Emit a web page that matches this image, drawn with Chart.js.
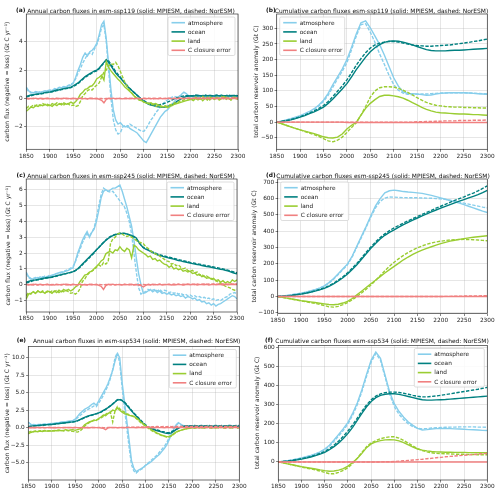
<!DOCTYPE html>
<html><head><meta charset="utf-8">
<script src="https://cdn.jsdelivr.net/npm/chart.js@4.4.1/dist/chart.umd.min.js"></script>
<style>
html,body{margin:0;padding:0;background:#fff;}
body{width:500px;height:493px;overflow:hidden;position:relative;font-family:"DejaVu Sans",sans-serif;}
canvas{position:absolute;}
.lab{position:absolute;font-size:5.9px;line-height:7px;font-weight:bold;white-space:nowrap;color:#111;}
.ttl{position:absolute;font-size:5.95px;line-height:7px;white-space:nowrap;color:#111;transform:translateX(-50%);}
</style></head><body>
<canvas id="ca" width="248" height="162" style="left:0;top:4px"></canvas>
<canvas id="cb" width="250" height="162" style="left:250px;top:4px"></canvas>
<canvas id="cc" width="248" height="160" style="left:0;top:168px"></canvas>
<canvas id="cd" width="250" height="160" style="left:250px;top:168px"></canvas>
<canvas id="ce" width="248" height="157" style="left:0;top:336px"></canvas>
<canvas id="cf" width="250" height="157" style="left:250px;top:336px"></canvas>
<script>
// ---------- categories / ticks ----------
const annualYears = Array.from({length:91},(_,i)=>1850+5*i);
const cumYears = Array.from({length:46},(_,i)=>1850+10*i);
const xTicks = [1850,1900,1950,2000,2050,2100,2150,2200,2250,2300];
const legendNames = ['atmosphere','ocean','land','C closure error'];
const aTicks = [-2,0,2,4];
const bTicks = [-50,0,50,100,150,200,250,300];
const cTicks = [-1,0,1,2,3,4,5,6];
const dTicks = [-100,0,100,200,300,400,500,600,700];
const eTicks = [-5,-2.5,0,2.5,5,7.5,10];
const fTicks = [0,100,200,300,400,500,600];

// ---------- (a) annual esm-ssp119 ----------
const aAtmM = [0.8,0.55,0.45,0.4,0.5,0.45,0.4,0.5,0.45,0.55,
0.6,0.55,0.7,0.65,0.8,0.75,0.85,0.8,0.9,0.95,
1.1,1.5,2.0,2.4,2.9,3.2,3.0,3.3,3.4,3.6,
3.9,4.5,5.2,5.45,4.2,2.4,0.6,-0.8,-1.5,-1.8,
-1.7,-1.9,-2.0,-1.9,-2.1,-2.2,-2.3,-2.4,-2.6,-2.8,
-3.0,-3.1,-2.8,-2.5,-2.2,-1.9,-1.6,-1.3,-1.1,-0.9,
-0.8,-0.6,-0.4,-0.2,0.0,0.1,0.3,0.45,0.35,0.2,
0.2,0.1,0.15,0.05,0.2,0.1,0.15,0.2,0.05,0.1,
0.2,0.1,0.15,0.25,0.1,0.2,0.1,0.15,0.05,0.1,
0.15];
const aAtmN = [0.7,0.5,0.4,0.45,0.4,0.5,0.45,0.5,0.55,0.5,
0.55,0.6,0.65,0.7,0.75,0.8,0.8,0.85,0.95,1.0,
1.1,1.4,1.8,2.1,2.5,2.8,3.1,3.2,3.1,3.5,
3.8,4.3,5.0,5.2,4.0,2.0,0.0,-1.5,-2.2,-2.5,
-2.4,-2.0,-1.9,-2.0,-1.8,-1.9,-2.0,-2.1,-2.2,-2.3,
-2.3,-2.1,-1.8,-1.5,-1.3,-1.0,-0.8,-0.6,-0.4,-0.2,
-0.1,0.0,0.1,0.15,0.1,0.2,0.15,0.1,0.2,0.15,
0.1,0.2,0.1,0.15,0.1,0.2,0.05,0.15,0.1,0.2,
0.1,0.15,0.2,0.1,0.15,0.05,0.2,0.1,0.15,0.1,
0.1];
const aOcnM = [0.15,0.2,0.25,0.28,0.3,0.33,0.35,0.38,0.42,0.45,
0.45,0.5,0.55,0.6,0.62,0.66,0.7,0.73,0.76,0.8,
0.9,1.0,1.1,1.25,1.4,1.55,1.65,1.75,1.85,1.95,
2.0,2.15,2.35,2.55,2.75,2.55,2.3,2.05,1.8,1.6,
1.45,1.25,1.05,0.85,0.7,0.55,0.4,0.25,0.1,-0.05,
-0.2,-0.3,-0.4,-0.45,-0.5,-0.55,-0.58,-0.6,-0.62,-0.6,
-0.55,-0.5,-0.42,-0.35,-0.2,-0.1,0.0,0.08,0.14,0.18,
0.2,0.18,0.2,0.22,0.2,0.18,0.2,0.2,0.22,0.2,
0.18,0.2,0.2,0.22,0.2,0.2,0.18,0.2,0.22,0.2,
0.2];
const aOcnN = [0.1,0.15,0.2,0.25,0.28,0.3,0.32,0.35,0.4,0.42,
0.45,0.48,0.52,0.56,0.6,0.63,0.67,0.7,0.73,0.78,
0.85,0.95,1.05,1.2,1.35,1.5,1.6,1.7,1.8,1.9,
1.95,2.1,2.3,2.5,2.7,2.65,2.4,2.15,1.9,1.7,
1.5,1.3,1.1,0.9,0.72,0.55,0.4,0.25,0.1,-0.05,
-0.15,-0.25,-0.32,-0.38,-0.42,-0.45,-0.45,-0.42,-0.38,-0.32,
-0.25,-0.18,-0.1,-0.02,0.05,0.1,0.15,0.18,0.2,0.2,
0.2,0.22,0.25,0.22,0.2,0.22,0.25,0.2,0.22,0.2,
0.22,0.25,0.2,0.22,0.2,0.22,0.25,0.2,0.22,0.2,
0.22];
const aLndM = [-0.9,-0.75,-0.6,-0.65,-0.5,-0.55,-0.45,-0.5,-0.4,-0.5,
-0.45,-0.55,-0.4,-0.5,-0.35,-0.45,-0.3,-0.4,-0.35,-0.25,
-0.35,-0.2,0.0,0.3,0.45,0.65,0.7,0.85,0.9,1.1,
1.4,1.5,1.65,1.3,2.6,2.2,1.95,1.75,1.55,1.35,
1.2,1.0,0.8,0.65,0.5,0.35,0.15,0.05,-0.1,-0.15,
-0.25,-0.3,-0.35,-0.3,-0.4,-0.35,-0.45,-0.5,-0.6,-0.55,
-0.65,-0.55,-0.5,-0.4,-0.35,-0.3,-0.25,-0.2,-0.15,-0.1,
-0.05,-0.15,0.0,-0.1,0.05,-0.15,0.0,0.1,-0.1,0.05,
-0.05,0.1,-0.1,0.0,0.15,-0.05,0.05,-0.1,0.1,0.0,
-0.05];
const aLndN = [-0.7,-0.55,-0.6,-0.45,-0.5,-0.4,-0.5,-0.35,-0.45,-0.4,
-0.5,-0.35,-0.45,-0.3,-0.4,-0.35,-0.45,-0.3,-0.4,-0.5,
-0.45,-0.55,-0.5,-0.2,0.2,0.35,0.55,0.65,0.6,0.8,
0.95,1.1,1.5,1.85,2.0,2.3,2.45,2.4,2.55,2.3,
1.9,1.5,1.1,0.8,0.55,0.35,0.15,0.0,-0.1,-0.15,
-0.25,-0.3,-0.35,-0.45,-0.4,-0.55,-0.5,-0.6,-0.55,-0.5,
-0.55,-0.45,-0.4,-0.3,-0.35,-0.2,-0.15,-0.1,-0.05,0.0,
0.05,-0.1,0.1,0.0,-0.05,0.15,0.0,-0.1,0.1,0.05,
-0.05,0.1,0.0,0.15,-0.05,0.1,0.0,-0.1,0.05,0.1,
0.0];
const aErrM = [0.02,-0.03,0.01,-0.02,0.03,-0.01,0.02,-0.03,0.0,0.02,
-0.02,0.01,-0.03,0.02,0.0,-0.02,0.03,-0.01,0.01,-0.02,
0.02,-0.01,0.0,0.03,-0.02,0.01,-0.03,0.02,-0.01,0.0,
0.02,-0.06,-0.12,-0.3,-0.05,0.02,-0.01,0.03,-0.02,0.0,
0.01,-0.02,0.02,0.0,-0.01,0.02,-0.02,0.01,0.0,-0.02,
0.02,-0.01,0.01,-0.02,0.02,0.0,-0.01,0.02,-0.02,0.01,
0.0,0.02,-0.02,0.01,-0.01,0.02,0.0,-0.02,0.01,0.02,
-0.01,0.01,0.02,-0.02,0.0,0.01,-0.01,0.02,-0.02,0.0,
0.02,-0.01,0.01,0.0,-0.02,0.02,-0.01,0.01,0.0,0.02,
0.0];
const aErrN = [0.0,0.01,-0.01,0.02,0.0,-0.02,0.01,0.0,-0.01,0.01,
0.0,-0.01,0.02,0.0,-0.01,0.01,0.0,0.02,-0.01,0.0,
0.01,0.0,-0.02,0.01,0.0,0.01,-0.01,0.0,0.02,0.0,
-0.01,0.01,0.0,-0.02,0.01,0.0,0.01,-0.01,0.0,0.02,
0.0,-0.01,0.01,0.0,0.02,-0.01,0.0,0.01,0.0,-0.01,
0.01,0.0,0.02,0.0,-0.01,0.01,0.0,0.02,0.01,0.0,
0.02,0.01,0.0,0.02,0.01,0.03,0.0,0.02,0.01,0.03,
0.02,0.03,0.01,0.04,0.02,0.03,0.05,0.02,0.04,0.03,
0.05,0.03,0.04,0.06,0.04,0.05,0.03,0.06,0.05,0.04,
0.05];

// ---------- (b) cumulative esm-ssp119 ----------
const bAtmM = [0,3,7,11,16,21,27,34,43,55,
70,92,120,145,170,200,240,282,318,324,
302,275,248,215,178,142,115,97,92,91,
90,88,86,87,90,92,93,94,94,94,
94,93,92,91,90,89];
const bAtmN = [0,3,6,10,14,19,25,32,40,52,
66,86,112,138,163,190,232,275,312,315,
288,255,218,185,150,120,102,93,89,88,
89,90,90,91,92,93,93,94,94,94,
94,93,93,92,91,90];
const bOcnM = [0,2,4,7,11,16,21,27,33,40,
48,60,74,90,106,123,145,168,188,208,
225,238,248,255,259,260,259,256,252,247,
242,237,232,229,228,228,228,229,230,230,
231,232,233,234,235,236];
const bOcnN = [0,2,5,8,12,17,23,29,36,44,
53,66,82,99,116,135,158,182,203,222,
237,247,253,256,258,258,256,253,250,247,
245,244,243,243,244,245,246,247,249,251,
253,255,258,260,263,266];
const bLndM = [0,-5,-10,-15,-20,-25,-29,-33,-37,-42,
-47,-50,-51,-48,-38,-22,-10,-1,22,44,
60,72,82,86,86,84,81,77,70,62,
55,47,41,36,32,30,29,28,27,26,
26,25,24,24,23,22];
const bLndN = [0,-5,-10,-15,-20,-25,-30,-35,-40,-46,
-53,-60,-63,-58,-48,-33,-17,-2,22,50,
80,100,110,113,113,112,108,102,95,87,
78,70,63,58,54,52,50,49,48,48,
47,47,46,46,45,45];
const bErrM = [0,0,0,0,0,0,0,0,0,0,
0,0,0,0,0,-1,-1,-1,-1,-1,
-1,-1,-1,-1,-1,-1,-1,-1,-1,-1,
-1,-1,-1,-1,-1,-1,-1,-1,-1,-1,
-1,-1,-1,-1,-1,-1];
const bErrN = [0,0,0,0,0,0,0,0,0,0,
0,0,0,0,0,0,0,0,0,0,
0,0,0,0,0,0,0,0,0,0,
1,1,2,2,3,3,4,4,4,5,
5,5,6,6,6,7];

// ---------- (c) annual esm-ssp245 ----------
const cAtmM = [0.8,0.5,0.4,0.35,0.4,0.45,0.4,0.5,0.45,0.5,
0.55,0.6,0.65,0.7,0.75,0.8,0.8,0.85,0.9,1.0,
1.05,1.5,2.0,2.4,2.8,3.1,3.35,3.0,3.3,3.5,
4.0,4.7,5.5,5.9,6.0,5.9,6.0,6.1,6.1,6.2,
6.3,5.9,5.4,4.9,4.3,3.7,2.8,1.7,0.7,0.0,
-0.55,-0.5,-0.4,-0.3,-0.45,-0.35,-0.5,-0.4,-0.55,-0.5,
-0.6,-0.55,-0.65,-0.6,-0.7,-0.65,-0.75,-0.7,-0.85,-0.75,
-0.8,-0.9,-0.85,-1.0,-0.95,-1.1,-1.05,-1.2,-1.15,-1.3,
-1.2,-1.35,-1.25,-1.2,-1.1,-1.0,-0.9,-0.8,-0.7,-0.75,
-0.9];
const cAtmN = [0.7,0.45,0.35,0.4,0.45,0.4,0.5,0.45,0.55,0.5,
0.6,0.55,0.65,0.7,0.7,0.75,0.85,0.9,0.95,1.05,
1.15,1.45,1.85,2.25,2.65,2.95,3.2,3.1,3.3,3.6,
4.2,5.0,5.7,6.1,6.0,5.9,5.85,5.9,5.7,5.5,
5.3,5.1,4.9,4.5,4.0,3.2,2.0,0.8,-0.2,-0.6,
-0.5,-0.45,-0.3,-0.4,-0.35,-0.3,-0.4,-0.3,-0.45,-0.35,
-0.4,-0.5,-0.45,-0.55,-0.5,-0.6,-0.55,-0.65,-0.6,-0.7,
-0.65,-0.75,-0.7,-0.8,-0.75,-0.85,-0.8,-0.9,-0.85,-0.95,
-0.9,-1.0,-0.95,-1.0,-0.9,-0.8,-0.75,-0.6,-0.55,-0.5,
-0.6];
const cOcnM = [0.15,0.2,0.25,0.28,0.3,0.33,0.36,0.4,0.42,0.45,
0.45,0.48,0.52,0.56,0.6,0.63,0.67,0.7,0.74,0.78,
0.82,0.9,1.0,1.15,1.3,1.45,1.6,1.75,1.9,2.05,
2.2,2.35,2.5,2.65,2.8,2.92,3.02,3.1,3.15,3.2,
3.22,3.24,3.24,3.2,3.16,3.1,3.05,2.95,2.7,2.5,
2.33,2.25,2.18,2.1,2.03,1.96,1.89,1.84,1.8,1.76,
1.72,1.68,1.65,1.61,1.57,1.53,1.5,1.46,1.43,1.4,
1.36,1.33,1.3,1.27,1.25,1.21,1.18,1.15,1.13,1.1,
1.07,1.03,1.0,0.97,0.95,0.91,0.87,0.82,0.77,0.72,
0.68];
const cOcnN = [0.1,0.15,0.2,0.25,0.28,0.3,0.33,0.36,0.4,0.42,
0.44,0.47,0.5,0.54,0.58,0.62,0.66,0.7,0.73,0.77,
0.8,0.88,0.98,1.1,1.25,1.4,1.55,1.7,1.85,2.0,
2.2,2.35,2.52,2.68,2.82,2.95,3.05,3.13,3.18,3.22,
3.25,3.26,3.24,3.2,3.15,3.08,3.0,2.88,2.68,2.5,
2.35,2.28,2.21,2.14,2.07,2.0,1.94,1.89,1.85,1.81,
1.77,1.73,1.7,1.66,1.62,1.58,1.55,1.51,1.48,1.45,
1.41,1.38,1.35,1.32,1.3,1.26,1.23,1.2,1.18,1.15,
1.12,1.08,1.05,1.02,0.99,0.96,0.92,0.88,0.83,0.79,
0.75];
const cLndM = [-0.9,-0.6,-0.55,-0.45,-0.55,-0.4,-0.5,-0.45,-0.55,-0.4,
-0.45,-0.55,-0.4,-0.5,-0.35,-0.45,-0.3,-0.4,-0.3,-0.4,
-0.3,-0.15,-0.05,0.2,0.4,0.6,0.65,0.8,0.85,1.0,
1.15,1.3,1.5,1.6,1.95,2.05,2.1,2.0,2.2,2.15,
2.4,2.2,2.1,2.3,2.2,1.7,2.5,2.4,2.2,2.1,
2.0,1.9,1.75,1.8,1.6,1.65,1.5,1.55,1.4,1.3,
1.25,1.1,1.2,1.0,1.05,0.95,1.0,0.85,0.9,0.8,
0.85,0.7,0.75,0.6,0.65,0.5,0.55,0.4,0.45,0.35,
0.4,0.25,0.3,0.15,0.25,0.1,0.2,0.1,0.3,0.2,
0.3];
const cLndN = [-0.7,-0.5,-0.6,-0.45,-0.55,-0.4,-0.5,-0.4,-0.5,-0.45,
-0.5,-0.4,-0.45,-0.35,-0.5,-0.4,-0.45,-0.35,-0.45,-0.55,
-0.5,-0.6,-0.5,-0.25,0.2,0.35,0.6,0.75,0.85,0.95,
1.1,1.25,1.15,1.4,1.3,1.45,2.6,2.9,3.0,3.2,
3.25,3.2,3.1,3.05,3.1,3.0,2.9,2.8,2.7,2.65,
2.6,2.4,2.3,2.15,2.05,1.95,1.9,1.8,1.7,1.6,
1.5,1.45,1.3,1.35,1.2,1.25,1.1,1.0,1.05,0.9,
0.85,0.9,0.75,0.8,0.6,0.65,0.5,0.55,0.45,0.4,
0.3,0.25,0.15,0.05,0.0,-0.1,-0.15,-0.2,-0.3,-0.35,
-0.3];
const cErrM = [0.02,-0.03,0.01,-0.02,0.03,-0.01,0.02,-0.03,0.0,0.02,
-0.02,0.01,-0.03,0.02,0.0,-0.02,0.03,-0.01,0.01,-0.02,
0.02,-0.01,0.0,0.03,-0.02,0.01,-0.03,0.02,-0.01,0.0,
0.02,-0.05,-0.1,-0.3,-0.06,0.02,-0.01,0.03,-0.02,0.0,
0.01,-0.02,0.02,0.0,-0.01,0.02,-0.02,0.01,-0.03,-0.05,
-0.15,-0.05,0.01,-0.02,0.02,0.0,-0.01,0.02,-0.02,0.01,
0.0,0.02,-0.02,0.01,-0.01,0.02,0.0,-0.02,0.01,0.02,
-0.01,0.01,0.02,-0.02,0.0,0.01,-0.01,0.02,-0.02,0.0,
0.02,-0.01,0.01,0.0,-0.02,0.02,-0.01,0.01,0.0,0.02,
0.0];
const cErrN = [0.0,0.01,-0.01,0.02,0.0,-0.02,0.01,0.0,-0.01,0.01,
0.0,-0.01,0.02,0.0,-0.01,0.01,0.0,0.02,-0.01,0.0,
0.01,0.0,-0.02,0.01,0.0,0.01,-0.01,0.0,0.02,0.0,
-0.01,0.01,0.0,-0.02,0.01,0.0,0.01,-0.01,0.0,0.02,
0.0,-0.01,0.01,0.0,0.02,-0.01,0.0,0.01,0.0,-0.01,
0.01,0.0,0.02,0.0,-0.01,0.01,0.0,0.02,0.01,0.0,
0.02,0.01,0.0,0.02,0.01,0.03,0.0,0.02,0.01,0.03,
0.02,0.03,0.01,0.04,0.02,0.03,0.05,0.02,0.04,0.03,
0.05,0.03,0.04,0.06,0.04,0.05,0.03,0.06,0.05,0.04,
0.05];

// ---------- (d) cumulative esm-ssp245 ----------
const dAtmM = [0,3,7,11,16,21,27,34,42,52,
65,85,110,140,170,200,248,310,370,430,
495,555,600,635,648,652,648,643,640,638,
635,632,626,620,612,604,596,588,580,572,
563,553,543,533,523,515];
const dAtmN = [0,3,6,10,15,20,26,33,41,51,
63,82,106,135,165,195,243,303,363,425,
488,543,583,603,610,609,607,606,605,605,
605,604,603,602,600,598,595,590,585,578,
572,566,560,554,548,543];
const dOcnM = [0,2,4,7,11,15,20,26,33,41,
50,62,77,95,115,138,165,195,228,262,
295,325,352,375,393,408,425,440,455,468,
481,494,506,518,530,541,552,563,574,584,
594,604,614,624,636,650];
const dOcnN = [0,2,4,7,11,16,21,27,35,43,
53,66,82,100,121,145,173,203,237,271,
304,334,361,384,404,421,436,450,464,477,
490,503,516,528,541,553,565,577,589,600,
611,623,634,647,662,678];
const dLndM = [0,-5,-10,-15,-20,-25,-29,-33,-37,-41,
-45,-49,-50,-47,-40,-30,-12,10,32,55,
78,100,122,144,165,185,205,225,242,258,
272,284,295,305,315,324,332,339,345,350,
355,359,363,366,369,372];
const dLndN = [0,-5,-10,-16,-21,-27,-32,-37,-42,-48,
-55,-63,-65,-60,-50,-38,-20,0,22,45,
70,98,128,158,185,210,232,252,270,285,
298,310,320,328,334,339,343,346,348,349,
350,349,348,346,344,342];
const dErrM = [0,0,0,0,0,0,0,0,0,0,
0,0,0,0,0,0,0,0,0,0,
0,0,0,0,0,0,0,0,0,0,
0,0,0,0,0,0,0,0,0,0,
0,0,0,0,0,0];
const dErrN = [0,0,0,0,0,0,0,0,0,0,
0,0,0,0,0,0,0,0,0,0,
0,0,0,0,0,0,0,0,0,0,
0,0,0,0,0,0,1,1,2,2,
3,3,4,4,5,5];

// ---------- (e) annual esm-ssp534 ----------
const eAtmM = [0.8,0.45,0.4,0.35,0.4,0.45,0.4,0.5,0.45,0.55,
0.6,0.55,0.7,0.65,0.8,0.75,0.85,0.9,0.95,1.0,
1.2,1.6,2.0,2.3,2.6,2.8,3.0,3.3,3.5,3.2,
3.8,4.4,5.0,5.6,6.3,7.2,8.2,9.5,10.6,10.0,
6.5,3.8,1.0,-1.8,-4.7,-5.8,-6.3,-6.1,-5.9,-5.7,
-5.4,-5.2,-5.0,-4.7,-4.4,-4.1,-3.8,-3.4,-3.0,-2.5,
-1.8,-1.0,-0.3,0.3,0.7,0.5,0.3,0.2,0.1,0.2,
0.15,0.1,0.2,0.1,0.15,0.05,0.1,0.15,0.1,0.0,
0.1,0.15,0.05,0.1,0.0,0.1,0.05,0.0,0.1,0.05,
0.0];
const eAtmN = [0.7,0.5,0.45,0.4,0.45,0.4,0.5,0.45,0.5,0.5,
0.55,0.6,0.65,0.7,0.75,0.8,0.8,0.85,0.9,1.0,
1.1,1.4,1.7,2.0,2.3,2.5,2.7,2.9,3.1,3.0,
3.5,4.0,4.6,5.3,6.0,7.0,8.3,10.0,10.7,9.2,
5.8,2.8,0.0,-2.8,-5.3,-6.2,-6.5,-6.2,-6.0,-5.8,
-5.4,-5.1,-4.8,-4.5,-4.2,-3.9,-3.5,-3.1,-2.7,-2.2,
-1.5,-0.7,0.0,0.4,0.6,0.4,0.2,0.15,0.2,0.1,
0.1,0.2,0.1,0.15,0.05,0.1,0.2,0.1,0.05,0.15,
0.1,0.05,0.15,0.1,0.2,0.05,0.1,0.15,0.05,0.1,
0.1];
const eOcnM = [0.15,0.2,0.25,0.28,0.3,0.33,0.36,0.4,0.42,0.45,
0.45,0.5,0.55,0.58,0.62,0.66,0.7,0.74,0.78,0.82,
0.88,1.0,1.15,1.3,1.45,1.6,1.7,1.8,1.9,2.0,
2.1,2.25,2.45,2.65,2.85,3.1,3.35,3.65,3.95,4.0,
3.85,3.6,3.2,2.8,2.4,2.0,1.65,1.3,0.95,0.6,
0.3,0.05,-0.1,-0.25,-0.35,-0.45,-0.55,-0.65,-0.75,-0.82,
-0.85,-0.75,-0.55,-0.3,-0.1,0.05,0.15,0.2,0.2,0.22,
0.2,0.22,0.2,0.18,0.2,0.22,0.2,0.2,0.18,0.2,
0.22,0.2,0.2,0.18,0.2,0.22,0.2,0.2,0.18,0.2,
0.2];
const eOcnN = [0.1,0.15,0.2,0.25,0.28,0.3,0.33,0.36,0.4,0.42,
0.44,0.48,0.52,0.56,0.6,0.64,0.68,0.72,0.76,0.8,
0.86,0.97,1.1,1.25,1.4,1.55,1.65,1.75,1.85,1.95,
2.05,2.2,2.4,2.6,2.85,3.1,3.4,3.7,4.0,4.05,
3.9,3.65,3.3,2.9,2.5,2.1,1.75,1.4,1.05,0.7,
0.4,0.15,0.0,-0.15,-0.25,-0.35,-0.45,-0.55,-0.62,-0.7,
-0.72,-0.62,-0.45,-0.25,-0.05,0.1,0.2,0.25,0.25,0.28,
0.25,0.3,0.25,0.28,0.3,0.25,0.28,0.3,0.25,0.28,
0.3,0.25,0.28,0.3,0.25,0.28,0.3,0.25,0.28,0.3,
0.28];
const eLndM = [-0.9,-0.7,-0.6,-0.55,-0.6,-0.5,-0.55,-0.45,-0.5,-0.45,
-0.5,-0.4,-0.45,-0.35,-0.45,-0.4,-0.3,-0.4,-0.35,-0.3,
-0.4,-0.3,-0.2,0.0,0.4,0.6,0.8,0.9,1.1,1.0,
1.3,1.5,1.8,1.7,2.0,2.2,2.5,2.4,2.8,2.5,
2.2,2.0,1.9,1.75,1.7,1.6,1.4,1.15,0.8,0.55,
0.3,0.05,-0.2,-0.4,-0.6,-0.8,-0.95,-1.1,-1.2,-1.3,
-1.3,-1.15,-0.9,-0.65,-0.5,-0.4,-0.3,-0.2,-0.15,-0.1,
0.0,-0.1,0.05,-0.05,0.1,-0.1,0.0,0.05,-0.1,0.0,
0.05,-0.05,0.1,0.0,-0.1,0.05,0.0,-0.05,0.1,0.0,
0.0];
const eLndN = [-0.7,-0.55,-0.6,-0.5,-0.55,-0.45,-0.5,-0.4,-0.5,-0.45,
-0.45,-0.5,-0.4,-0.45,-0.35,-0.5,-0.4,-0.45,-0.5,-0.55,
-0.6,-0.65,-0.5,-0.2,0.2,0.5,0.7,0.9,1.0,1.1,
1.2,1.4,1.6,1.9,2.1,2.2,0.8,2.4,3.0,2.7,
2.4,2.2,2.0,1.85,1.7,1.55,1.3,1.0,0.7,0.45,
0.2,-0.05,-0.3,-0.5,-0.7,-0.85,-1.0,-1.15,-1.25,-1.35,
-1.35,-1.2,-0.95,-0.7,-0.5,-0.4,-0.3,-0.2,-0.1,-0.1,
0.05,-0.1,0.0,0.1,-0.05,0.0,0.1,-0.1,0.05,0.0,
-0.05,0.1,0.0,-0.1,0.05,0.1,-0.05,0.0,0.05,-0.1,
0.0];
const eErrM = [0.02,-0.03,0.01,-0.02,0.03,-0.01,0.02,-0.03,0.0,0.02,
-0.02,0.01,-0.03,0.02,0.0,-0.02,0.03,-0.01,0.01,-0.02,
0.02,-0.01,0.0,0.03,-0.02,0.01,-0.03,0.02,-0.01,0.0,
0.02,-0.06,-0.12,-0.3,-0.05,0.02,-0.01,0.03,-0.02,0.0,
0.01,-0.02,0.02,0.0,-0.01,0.02,-0.02,0.01,0.0,-0.02,
0.02,-0.01,0.01,-0.02,0.02,0.0,-0.01,0.02,-0.02,0.01,
0.0,0.02,-0.02,0.01,-0.01,0.02,0.0,-0.02,0.01,0.02,
-0.01,0.01,0.02,-0.02,0.0,0.01,-0.01,0.02,-0.02,0.0,
0.02,-0.01,0.01,0.0,-0.02,0.02,-0.01,0.01,0.0,0.02,
0.0];
const eErrN = [0.0,0.01,-0.01,0.02,0.0,-0.02,0.01,0.0,-0.01,0.01,
0.0,-0.01,0.02,0.0,-0.01,0.01,0.0,0.02,-0.01,0.0,
0.01,0.0,-0.02,0.01,0.0,0.01,-0.01,0.0,0.02,0.0,
-0.01,0.01,0.0,-0.02,0.01,0.0,0.01,-0.01,0.0,0.02,
0.0,0.02,0.03,0.05,0.04,0.06,0.05,0.07,0.08,0.1,
0.1,0.12,0.1,0.13,0.12,0.15,0.12,0.14,0.15,0.13,
0.15,0.14,0.16,0.15,0.17,0.15,0.16,0.18,0.15,0.17,
0.16,0.18,0.15,0.17,0.16,0.18,0.17,0.15,0.18,0.16,
0.17,0.15,0.18,0.16,0.17,0.18,0.15,0.17,0.16,0.18,
0.17];

// ---------- (f) cumulative esm-ssp534 ----------
const fAtmM = [0,3,7,11,16,21,27,34,42,53,
68,88,115,145,175,208,255,310,380,460,
535,578,545,455,365,305,265,235,210,192,
176,168,170,173,175,176,176,175,174,173,
172,170,169,168,166,165];
const fAtmN = [0,3,6,10,15,20,26,33,41,51,
64,83,108,137,166,200,245,300,370,450,
525,570,535,445,355,290,250,222,200,185,
177,174,175,178,180,181,182,183,183,184,
184,184,184,183,183,182];
const fOcnM = [0,2,4,7,11,15,20,26,33,41,
50,64,80,100,123,150,182,218,255,290,
318,338,350,356,358,358,355,350,344,338,
332,327,325,325,326,327,328,330,332,334,
336,338,340,342,344,346];
const fOcnN = [0,2,5,8,12,17,22,28,36,45,
55,70,88,110,135,163,195,230,266,300,
327,346,358,364,367,367,365,361,356,350,
345,342,342,344,347,350,354,358,362,366,
370,374,378,382,387,392];
const fLndM = [0,-5,-10,-15,-20,-25,-29,-33,-37,-42,
-46,-49,-48,-43,-35,-22,-3,18,45,75,
95,105,112,116,117,116,111,102,90,78,
68,62,58,55,53,52,51,51,50,50,
50,49,49,48,48,48];
const fLndN = [0,-5,-10,-16,-21,-27,-32,-37,-42,-48,
-55,-62,-62,-55,-45,-30,-8,20,50,80,
100,112,122,128,132,132,125,113,98,83,
70,60,53,48,45,44,43,42,41,40,
40,39,39,38,38,38];
const fErrM = [0,0,0,0,0,0,0,0,0,0,
0,0,0,0,0,0,0,0,0,0,
0,0,0,0,0,0,0,0,0,0,
0,0,0,0,0,0,0,0,0,0,
0,0,0,0,0,0];
const fErrN = [0,0,0,0,0,0,0,0,0,0,
0,0,0,0,0,0,0,0,0,0,
0,0,0,1,1,2,4,6,8,10,
12,14,17,19,22,24,27,29,31,33,
35,37,39,41,43,45];

// ---------- styling (not data) ----------
const COL = {atm:'#87ceeb', ocn:'#008080', lnd:'#9acd32', err:'#f08080'};
const FONT = '"DejaVu Sans", sans-serif';
const fluxTitle = 'carbon flux (negative = loss) (Gt C yr\u207B\u00B9)';
const cumTitle = 'total carbon reservoir anomaly (Gt C)';

const panels = [
 {id:'ca', lab:'(a)', title:'Annual carbon fluxes in esm-ssp119 (solid: MPIESM, dashed: NorESM)', yTitle:fluxTitle,
  years:annualYears, s:{atm:[aAtmM,aAtmN], ocn:[aOcnM,aOcnN], lnd:[aLndM,aLndN], err:[aErrM,aErrN]},
  cv:{x:0,y:4,w:248,h:162}, ar:{l:26.3,t:14,r:238,b:149.3}, yMin:-3.57, yMax:5.95, ticks:aTicks, dec:0, leg:'right', legW:67, tPad:3.4,
  labX:16, labY:10, ttlX:131},
 {id:'cb', lab:'(b)', title:'Cumulative carbon fluxes esm-ssp119 (solid: MPIESM, dashed: NorESM)', yTitle:cumTitle,
  years:cumYears, s:{atm:[bAtmM,bAtmN], ocn:[bOcnM,bOcnN], lnd:[bLndM,bLndN], err:[bErrM,bErrN]},
  cv:{x:250,y:4,w:250,h:162}, ar:{l:276.7,t:14,r:487.3,b:149.3}, yMin:-87, yMax:346, ticks:bTicks, dec:0, leg:'left', legW:65, tPad:2.4,
  labX:266, labY:10, ttlX:381.5},
 {id:'cc', lab:'(c)', title:'Annual carbon fluxes in esm-ssp245 (solid: MPIESM, dashed: NorESM)', yTitle:fluxTitle,
  years:annualYears, s:{atm:[cAtmM,cAtmN], ocn:[cOcnM,cOcnN], lnd:[cLndM,cLndN], err:[cErrM,cErrN]},
  cv:{x:0,y:168,w:248,h:160}, ar:{l:26.2,t:179,r:237,b:312}, yMin:-1.73, yMax:6.68, ticks:cTicks, dec:0, leg:'right', legW:67, tPad:4.7,
  labX:16.5, labY:175.2, ttlX:131},
 {id:'cd', lab:'(d)', title:'Cumulative carbon fluxes esm-ssp245 (solid: MPIESM, dashed: NorESM)', yTitle:cumTitle,
  years:cumYears, s:{atm:[dAtmM,dAtmN], ocn:[dOcnM,dOcnN], lnd:[dLndM,dLndN], err:[dErrM,dErrN]},
  cv:{x:250,y:168,w:250,h:160}, ar:{l:277.7,t:179,r:487.3,b:313.5}, yMin:-104, yMax:720, ticks:dTicks, dec:0, leg:'left', legW:68, tPad:0.6,
  labX:266, labY:175.2, ttlX:383},
 {id:'ce', lab:'(e)', title:'Annual carbon fluxes in esm-ssp534 (solid: MPIESM, dashed: NorESM)', yTitle:fluxTitle,
  years:annualYears, s:{atm:[eAtmM,eAtmN], ocn:[eOcnM,eOcnN], lnd:[eLndM,eLndN], err:[eErrM,eErrN]},
  cv:{x:0,y:336,w:248,h:157}, ar:{l:28.3,t:346.5,r:239.3,b:480}, yMin:-7.5, yMax:11.6, ticks:eTicks, dec:1, leg:'right', legW:67, tPad:3.7,
  labX:16.7, labY:340.8, ttlX:136.7},
 {id:'cf', lab:'(f)', title:'Cumulative carbon fluxes esm-ssp534 (solid: MPIESM, dashed: NorESM)', yTitle:cumTitle,
  years:cumYears, s:{atm:[fAtmM,fAtmN], ocn:[fOcnM,fOcnN], lnd:[fLndM,fLndN], err:[fErrM,fErrN]},
  cv:{x:250,y:336,w:250,h:157}, ar:{l:278.3,t:345.5,r:487.3,b:480}, yMin:-95, yMax:612, ticks:fTicks, dec:0, leg:'right', legW:70, tPad:3.7,
  labX:265, labY:340.8, ttlX:382}
];

function fmt(v, dec){ const s = Number(v).toFixed(dec); return s.replace('-', '\u2212'); }

const framePlugin = {
  id:'frame',
  afterDraw(chart){
    const {ctx, chartArea:a} = chart;
    ctx.save(); ctx.strokeStyle='rgba(0,0,0,0.8)'; ctx.lineWidth=0.7;
    ctx.strokeRect(a.left, a.top, a.right-a.left, a.bottom-a.top); ctx.restore();
  }
};
const legendPlugin = {
  id:'boxLegend',
  afterDraw(chart, args, o){
    const {ctx, chartArea:a} = chart;
    const w=o.w, h=38.5, inset=3;
    const x0 = o.side==='right' ? a.right-inset-w : a.left+inset;
    const y0 = a.top+inset;
    ctx.save();
    ctx.beginPath();
    if (ctx.roundRect) ctx.roundRect(x0,y0,w,h,1.5); else ctx.rect(x0,y0,w,h);
    ctx.fillStyle='rgba(255,255,255,0.85)'; ctx.fill();
    ctx.strokeStyle='#cfcfcf'; ctx.lineWidth=0.7; ctx.stroke();
    const cols=[COL.atm,COL.ocn,COL.lnd,COL.err];
    ctx.font='5.8px '+FONT; ctx.textBaseline='middle'; ctx.textAlign='left';
    legendNames.forEach((n,i)=>{
      const y=y0+5.7+i*9.2;
      ctx.strokeStyle=cols[i]; ctx.lineWidth=1.6; ctx.setLineDash([]);
      ctx.beginPath(); ctx.moveTo(x0+3.5,y); ctx.lineTo(x0+17,y); ctx.stroke();
      ctx.fillStyle='#222'; ctx.fillText(n, x0+20, y+0.3);
    });
    ctx.restore();
  }
};

const DASH=[3.4,1.5];
panels.forEach(p=>{
  const l=document.createElement('div'); l.className='lab'; l.textContent=p.lab;
  l.style.left=p.labX+'px'; l.style.top=(p.labY-3.5)+'px'; document.body.appendChild(l);
  const t=document.createElement('div'); t.className='ttl'; t.textContent=p.title;
  t.style.left=p.ttlX+'px'; t.style.top=(p.labY-3.5)+'px'; document.body.appendChild(t);

  const mk=(arr)=>p.years.map((yr,i)=>({x:yr,y:arr[i]}));
  const order=[['err',1],['err',0],['lnd',1],['lnd',0],['ocn',1],['ocn',0],['atm',1],['atm',0]];
  const datasets=order.map(([k,m])=>({
    data:mk(p.s[k][m]), borderColor:COL[k], borderWidth:1.4, borderDash:m?DASH:[],
    pointRadius:0, fill:false, tension:0
  }));
  const yW=p.ar.l-p.cv.x, xH=(p.cv.y+p.cv.h)-p.ar.b;
  const padTop=p.ar.t-p.cv.y, padRight=(p.cv.x+p.cv.w)-p.ar.r;
  const gridCol='rgba(176,176,176,0.45)';
  new Chart(document.getElementById(p.id), {
    type:'line',
    data:{datasets},
    plugins:[framePlugin, legendPlugin],
    options:{
      responsive:false, animation:false, devicePixelRatio:1,
      layout:{padding:{top:padTop,right:padRight,left:0,bottom:0}},
      plugins:{legend:{display:false}, tooltip:{enabled:false}, boxLegend:{side:p.leg, w:p.legW}},
      scales:{
        x:{type:'linear', min:1850, max:2300,
          afterBuildTicks:s=>{s.ticks=xTicks.map(v=>({value:v}));},
          afterFit:s=>{s.height=xH; s.paddingLeft=0; s.paddingRight=0;},
          grid:{color:gridCol, lineWidth:0.7, tickLength:2.5, tickColor:'#333', tickWidth:0.6, drawTicks:true},
          border:{display:false},
          ticks:{font:{family:FONT,size:5.8}, color:'#222', padding:1, maxRotation:0, autoSkip:false, callback:v=>String(v)}},
        y:{type:'linear', min:p.yMin, max:p.yMax,
          afterBuildTicks:s=>{s.ticks=p.ticks.map(v=>({value:v}));},
          afterFit:s=>{s.width=yW; s.paddingTop=0; s.paddingBottom=0;},
          grid:{color:gridCol, lineWidth:0.7, tickLength:2.2, tickColor:'#333', tickWidth:0.6, drawTicks:true},
          border:{display:false},
          ticks:{font:{family:FONT,size:5.8}, color:'#222', padding:1.3, autoSkip:false, callback:v=>fmt(v,p.dec)},
          title:{display:true, text:p.yTitle, font:{family:FONT,size:6}, color:'#222', padding:{top:p.tPad,bottom:0}}}
      }
    }
  });
});
</script>
</body></html>
